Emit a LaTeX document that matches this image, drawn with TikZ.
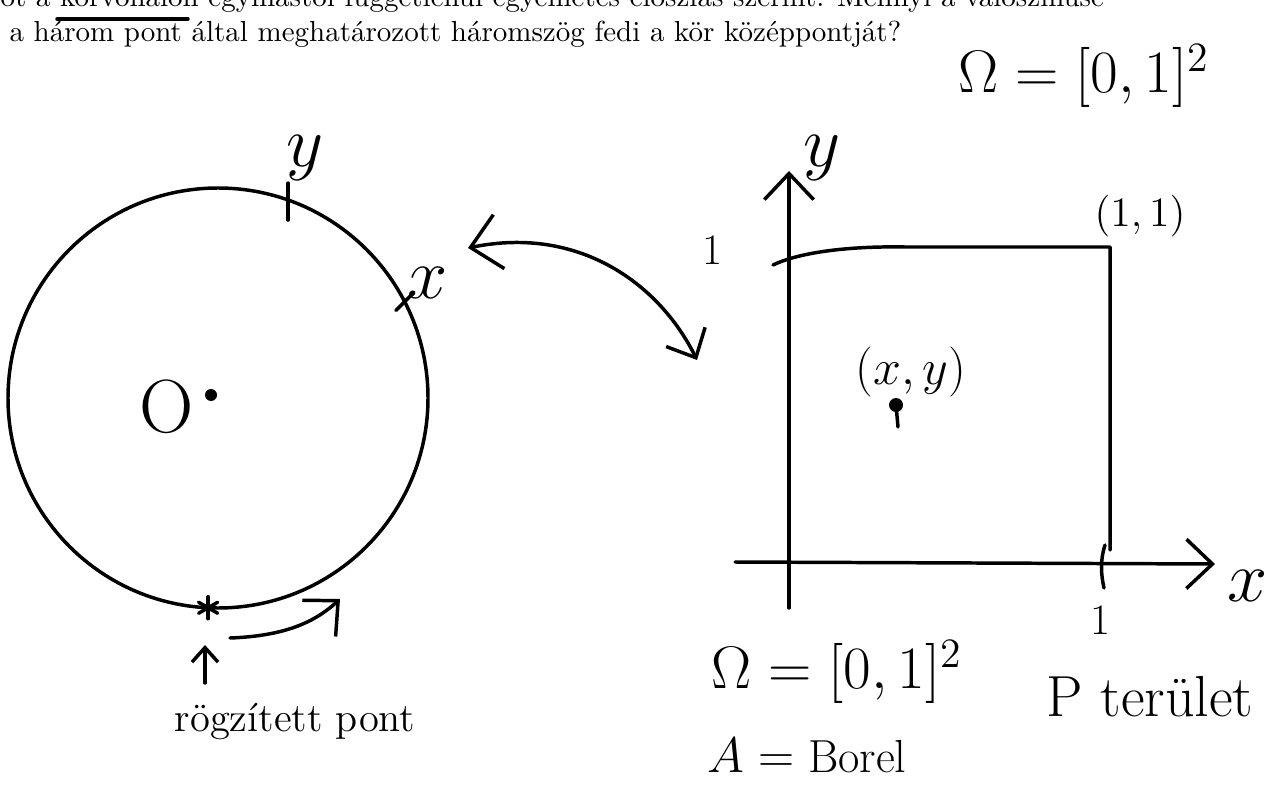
\documentclass[tikz,border=0pt]{standalone}
\usepackage{amsmath}
\usepackage{amssymb}
\usetikzlibrary{arrows.meta}
\usetikzlibrary{calc}

\tikzset{
  ink/.style={line width=1.2pt, line cap=round, line join=round},
  barb/.style={-{Straight Barb[length=9pt,width=17pt]}},
  barbs/.style={{Straight Barb[length=10pt,width=19pt]}-{Straight Barb[length=8pt,width=15pt]}},
  hand/.style={font=\fontsize{#1}{#1}\selectfont},
  hand/.default=18
}

\begin{document}
\begin{tikzpicture}[x=0.345pt, y=-0.345pt, every node/.style={inner sep=0pt}]

      % Page frame
      \clip (0,0) rectangle (1272,798);

      % Exercise text, cut at the top
      \node[anchor=base west] (line1) at (0,7) {ot a körvonalon egymástól függetlenül egyenletes eloszlás szerint. Mennyi a valószínűsé};
      \node[anchor=base west] (line2) at (9,42) {a három pont által meghatározott háromszög fedi a kör középpontját?};
      \draw[ink] (57,19) -- (188,19);

      % Radius of the circle
      \def\rad{210}

      % The circle and its centre
      \coordinate (O) at (218,398);
      \draw[ink] (O) circle[radius=\rad];
      \fill (211,395) circle[radius=6];
      \node[hand=26] (olab) at (167,407) {O};

      % Points on the circle
      \coordinate (py) at ($(O)+(-70.5:\rad)$);
      \coordinate (px) at ($(O)+(-27.7:\rad)$);
      \coordinate (fix) at ($(O)+(92.7:\rad)$);
      \draw[ink] ($(py)+(0,-17)$) -- ($(py)+(0,20)$);
      \draw[ink] ($(px)+(-8,10)$) -- ($(px)+(10,-8)$);
      \node[hand=24] (ylab) at (305,158) {$y$};
      \node[hand=24] (xlab) at (428,283) {$x$};

      % Fixed point, drawn as a star
      \foreach \a in {90,150,210} {
        \draw[ink] ($(fix)+(\a:11)$) -- ($(fix)+(\a+180:11)$);
      }

      % Direction of travel round the circle
      \coordinate (runA) at (230,638);
      \coordinate (runB) at (340,599);
      \draw[ink, barb] (runA) .. controls (285,636) and (315,622) .. (runB);

      % Arrow pointing at the fixed point
      \coordinate (upA) at (205,683);
      \coordinate (upB) at (205,645);
      \draw[ink, -{Straight Barb[length=5pt,width=9pt]}] (upA) -- (upB);
      \node[hand=14] (fixlab) at (295,722) {rögzített pont};

      % Correspondence between circle and square
      \coordinate (mapA) at (468,248);
      \coordinate (mapB) at (697,360);
      \draw[ink, barbs] (mapA) .. controls (580,225) and (660,285) .. (mapB);

      % Axes
      \coordinate (xs) at (735,562);
      \coordinate (xe) at (1215,564);
      \coordinate (ys) at (789,608);
      \coordinate (ye) at (789,171);
      \draw[ink, barb] (xs) -- (xe);
      \draw[ink, barb] (ys) -- (ye);
      \node[hand=24] (xax) at (1248,586) {$x$};
      \node[hand=24] (yax) at (822,158) {$y$};

      % Unit square
      \draw[ink] (773,265) .. controls (800,252) and (850,246) .. (905,247) -- (1110,247) -- (1110,550);
      \draw[ink] (1105,545) .. controls (1100,560) and (1101,575) .. (1104,588);
      \node[hand=15] (oney) at (712,250) {1};
      \node[hand=15] (onex) at (1100,620) {1};
      \node[hand=15] (corner) at (1140,216) {$(1,1)$};

      % Sample point
      \coordinate (pt) at (896,405);
      \fill (pt) circle[radius=7];
      \draw[ink] (pt) -- ++(2,22);
      \node[hand=16] (ptlab) at (911,372) {$(x,y)$};

      % Probability space
      \node[hand=20] (omega1) at (1084,76) {$\Omega=[0,1]^2$};
      \node[hand=20] (omega2) at (837,672) {$\Omega=[0,1]^2$};
      \node[hand=16] (borel) at (807,756) {$A=\text{Borel}$};
      \node[hand=20] (area) at (1150,697) {P terület};

    \end{tikzpicture}
\end{document}
